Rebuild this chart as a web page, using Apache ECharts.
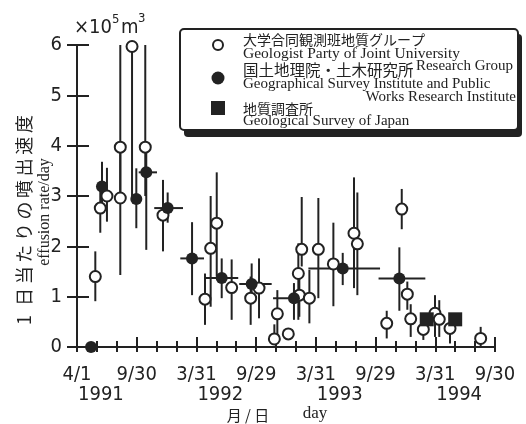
<!DOCTYPE html>
<html><head><meta charset="utf-8">
<script src="https://cdn.jsdelivr.net/npm/echarts@6/dist/echarts.min.js"></script>
<style>html,body{margin:0;padding:0;background:#fff}#c{width:526px;height:424px}</style>
</head><body><div id="c"></div>
<script>
// x axis: months since 1991-04-01 ; y axis: effusion rate (x10^5 m^3 / day)
const monthTickLabels = ['4/1', '9/30', '3/31', '9/29', '3/31', '9/29', '3/31', '9/30'];
const yearLabels = ['1991', '1992', '1993', '1994'];

// 大学合同観測班地質グループ : [month, rate, low, high]
const jointUniv = [
  [1.84, 1.40, 0.91, 1.90],
  [2.34, 2.76, 2.27, 3.10],
  [3.01, 3.00, 2.49, 3.56],
  [4.35, 3.97, 3.00, 6.00],
  [4.35, 2.96, 1.43, 3.97],
  [5.53, 5.97, 2.95, 6.00],
  [6.86, 3.97, 3.00, 6.00],
  [8.64, 2.62, 1.90, 3.32],
  [12.86, 0.95, 0.44, 1.46],
  [13.43, 1.96, 0.80, 3.00],
  [14.04, 2.46, 1.40, 3.47],
  [15.54, 1.18, 0.54, 1.74],
  [17.45, 0.97, 0.44, 1.40],
  [18.29, 1.17, 0.57, 1.76],
  [20.13, 0.66, 0.17, 1.13],
  [19.83, 0.16, 0.16, 0.45],
  [21.23, 0.26, 0.26, 0.26],
  [22.24, 1.46, 0.54, 2.06],
  [22.58, 1.94, 1.60, 2.98],
  [22.34, 1.03, 0.60, 1.40],
  [23.35, 0.97, 0.47, 1.53],
  [24.25, 1.94, 0.97, 2.96],
  [25.76, 1.65, 0.81, 2.47],
  [27.83, 2.26, 1.17, 3.37],
  [28.17, 2.05, 1.03, 3.07],
  [31.12, 0.47, 0.17, 0.72],
  [32.63, 2.74, 2.34, 3.14],
  [33.19, 1.05, 0.74, 1.30],
  [33.53, 0.56, 0.20, 0.85],
  [34.80, 0.35, 0.14, 0.60],
  [35.97, 0.67, 0.20, 1.03],
  [36.40, 0.55, 0.20, 0.93],
  [37.48, 0.37, 0.07, 0.60],
  [40.56, 0.17, 0.00, 0.40]
];

// 国土地理院・土木研究所 : [month, rate, low, high, monthFrom, monthTo]
const gsiPwri = [
  [1.41, 0.00, 0.00, 0.00, null, null],
  [2.51, 3.19, 2.80, 3.68, null, null],
  [5.96, 2.94, 2.36, 3.55, null, null],
  [6.96, 3.47, 1.93, 4.00, 6.20, 8.04],
  [9.11, 2.76, 2.47, 3.07, 7.76, 10.65],
  [11.56, 1.76, 1.03, 2.48, 10.38, 12.76],
  [14.54, 1.37, 0.97, 1.76, 12.96, 16.20],
  [17.55, 1.25, 0.90, 1.66, 16.30, 19.56],
  [21.80, 0.97, 0.54, 1.27, 19.70, 23.40],
  [26.70, 1.56, 1.23, 1.87, 23.25, 30.45],
  [32.39, 1.36, 0.72, 1.98, 30.30, 35.00]
];

// 地質調査所 : [month, rate]
const gsj = [
  [35.14, 0.55],
  [38.00, 0.55]
];

const INK = '#222';
const NUM_FONT = '"Liberation Sans Narrow", "DejaVu Sans Condensed", sans-serif';
const SERIF = '"Liberation Serif", "DejaVu Serif", serif';
const JP = '"Noto Sans CJK JP", sans-serif';
const YEAR_SHIFT = 2.4; // year caption sits a little right of the April tick

const barData = jointUniv.map(d => [d[0], d[1], d[2], d[3], null, null]).concat(gsiPwri);

function renderBars(params, api) {
  const x = api.value(0), y = api.value(1), lo = api.value(2), hi = api.value(3);
  const xl = api.value(4), xh = api.value(5);
  const children = [];
  if (hi > lo) {
    const a = api.coord([x, lo]), b = api.coord([x, hi]);
    children.push({type: 'line', shape: {x1: a[0], y1: a[1], x2: b[0], y2: b[1]}, style: {stroke: INK, lineWidth: 2}});
  }
  if (xl != null && !isNaN(xl) && xh > xl) {
    const a = api.coord([xl, y]), b = api.coord([xh, y]);
    children.push({type: 'line', shape: {x1: a[0], y1: a[1], x2: b[0], y2: b[1]}, style: {stroke: INK, lineWidth: 2}});
  }
  return {type: 'group', children};
}

const chart = echarts.init(document.getElementById('c'), null, {renderer: 'canvas'});
chart.setOption({
  backgroundColor: '#fff',
  animation: false,
  grid: {left: 77, right: 31, top: 45, bottom: 77},
  xAxis: [{
    type: 'value', min: 0, max: 42, interval: 6,
    axisLine: {lineStyle: {color: INK, width: 2}},
    axisTick: {inside: true, length: 10, lineStyle: {color: INK, width: 2}},
    minorTick: {show: true, splitNumber: 3, length: 6, lineStyle: {color: INK, width: 2}},
    splitLine: {show: false},
    axisLabel: {
      showMinLabel: true, showMaxLabel: true, margin: 18,
      color: INK, fontFamily: NUM_FONT, fontSize: 20,
      formatter: v => monthTickLabels[Math.round(v / 6)]
    }
  }, {
    type: 'value', min: 0, max: 42, interval: 2, position: 'top',
    axisLine: {lineStyle: {color: INK, width: 2}},
    axisTick: {inside: true, length: 5, lineStyle: {color: INK, width: 2}},
    axisLabel: {show: false}, splitLine: {show: false}
  }, {
    type: 'value', min: 0, max: 42, position: 'bottom',
    axisLine: {show: false}, axisTick: {show: false}, splitLine: {show: false},
    axisLabel: {
      customValues: yearLabels.map((y, i) => 12 * i + YEAR_SHIFT),
      margin: 38, color: INK, fontFamily: NUM_FONT, fontSize: 20,
      formatter: v => yearLabels[Math.round((v - YEAR_SHIFT) / 12)]
    }
  }],
  yAxis: [{
    type: 'value', min: 0, max: 6, interval: 1,
    axisLine: {show: true, lineStyle: {color: INK, width: 2}},
    axisTick: {show: true, inside: true, length: 12, lineStyle: {color: INK, width: 2}},
    splitLine: {show: false},
    axisLabel: {margin: 15, color: INK, fontFamily: NUM_FONT, fontSize: 20}
  }, {
    type: 'value', min: 0, max: 6, interval: 1, position: 'right',
    axisLine: {show: true, lineStyle: {color: INK, width: 2}},
    axisTick: {show: true, inside: true, length: 10, lineStyle: {color: INK, width: 2}},
    splitLine: {show: false}, axisLabel: {show: false}
  }],
  series: [{
    type: 'custom', name: 'bars', renderItem: renderBars, data: barData,
    encode: {x: 0, y: 1}, z: 2, silent: true
  }, {
    type: 'scatter', name: '大学合同観測班地質グループ', data: jointUniv.map(d => [d[0], d[1]]),
    symbol: 'circle', symbolSize: 11, clip: false, z: 3,
    itemStyle: {color: '#fff', borderColor: INK, borderWidth: 2, opacity: 1}
  }, {
    type: 'scatter', name: '国土地理院・土木研究所', data: gsiPwri.map(d => [d[0], d[1]]),
    symbol: 'circle', symbolSize: 12, clip: false, z: 4,
    itemStyle: {color: INK, opacity: 1}
  }, {
    type: 'scatter', name: '地質調査所', data: gsj,
    symbol: 'rect', symbolSize: 14, clip: false, z: 4,
    itemStyle: {color: INK, opacity: 1}
  }],
  graphic: [
    // unit label
    {type: 'text', x: 74, y: 28, style: {text: '×10', font: '20px ' + NUM_FONT, fill: INK, verticalAlign: 'middle'}},
    {type: 'text', x: 112, y: 20, style: {text: '5', font: '13px ' + NUM_FONT, fill: INK, verticalAlign: 'middle'}},
    {type: 'text', x: 121, y: 28, style: {text: 'm', font: '20px ' + NUM_FONT, fill: INK, verticalAlign: 'middle'}},
    {type: 'text', x: 138, y: 19, style: {text: '3', font: '13px ' + NUM_FONT, fill: INK, verticalAlign: 'middle'}},
    // y title
    {type: 'text', x: 24, y: 220, rotation: Math.PI / 2, style: {text: '1\u2002日\u2009当\u2009た\u2009り\u2009の\u2009噴\u2009出\u2009速\u2009度', font: '18px ' + JP, fill: INK, align: 'center', verticalAlign: 'middle'}},
    {type: 'text', x: 45, y: 212, rotation: Math.PI / 2, style: {text: 'effusion rate/day', font: '16px ' + SERIF, fill: INK, align: 'center', verticalAlign: 'middle'}},
    // x title
    {type: 'text', x: 248, y: 415, style: {text: '月 / 日', font: '15px ' + JP, fill: INK, align: 'center', verticalAlign: 'middle'}},
    {type: 'text', x: 315, y: 414, style: {text: 'day', font: '17px ' + SERIF, fill: INK, align: 'center', verticalAlign: 'middle'}},
    // legend box
    {type: 'group', z: 100, children: [
      {type: 'rect', shape: {x: 184, y: 34, width: 338, height: 103, r: 4}, style: {fill: INK}},
      {type: 'rect', shape: {x: 180, y: 29, width: 338, height: 101, r: 4}, style: {fill: '#fff', stroke: INK, lineWidth: 2}},
      {type: 'circle', shape: {cx: 218, cy: 45, r: 5}, style: {fill: '#fff', stroke: INK, lineWidth: 2}},
      {type: 'circle', shape: {cx: 218, cy: 78, r: 6.5}, style: {fill: INK}},
      {type: 'rect', shape: {x: 211, y: 101, width: 14, height: 14}, style: {fill: INK}},
      {type: 'text', x: 243, y: 40, style: {text: '大学合同観測班地質グループ', font: '14px ' + JP, fill: INK, verticalAlign: 'middle'}},
      {type: 'text', x: 243, y: 54, style: {text: 'Geologist Party of Joint University', font: '15.5px ' + SERIF, fill: INK, verticalAlign: 'middle'}},
      {type: 'text', x: 513, y: 66, style: {text: 'Research Group', font: '15px ' + SERIF, fill: INK, align: 'right', verticalAlign: 'middle'}},
      {type: 'text', x: 243, y: 70, style: {text: '国土地理院・土木研究所', font: '15.5px ' + JP, fill: INK, verticalAlign: 'middle'}},
      {type: 'text', x: 243, y: 84, style: {text: 'Geographical Survey Institute and Public', font: '15px ' + SERIF, fill: INK, verticalAlign: 'middle'}},
      {type: 'text', x: 516, y: 97, style: {text: 'Works Research Institute', font: '15px ' + SERIF, fill: INK, align: 'right', verticalAlign: 'middle'}},
      {type: 'text', x: 243, y: 109, style: {text: '地質調査所', font: '14px ' + JP, fill: INK, verticalAlign: 'middle'}},
      {type: 'text', x: 243, y: 121, style: {text: 'Geological Survey of Japan', font: '15px ' + SERIF, fill: INK, verticalAlign: 'middle'}}
    ]}
  ]
});
</script>
</body></html>
